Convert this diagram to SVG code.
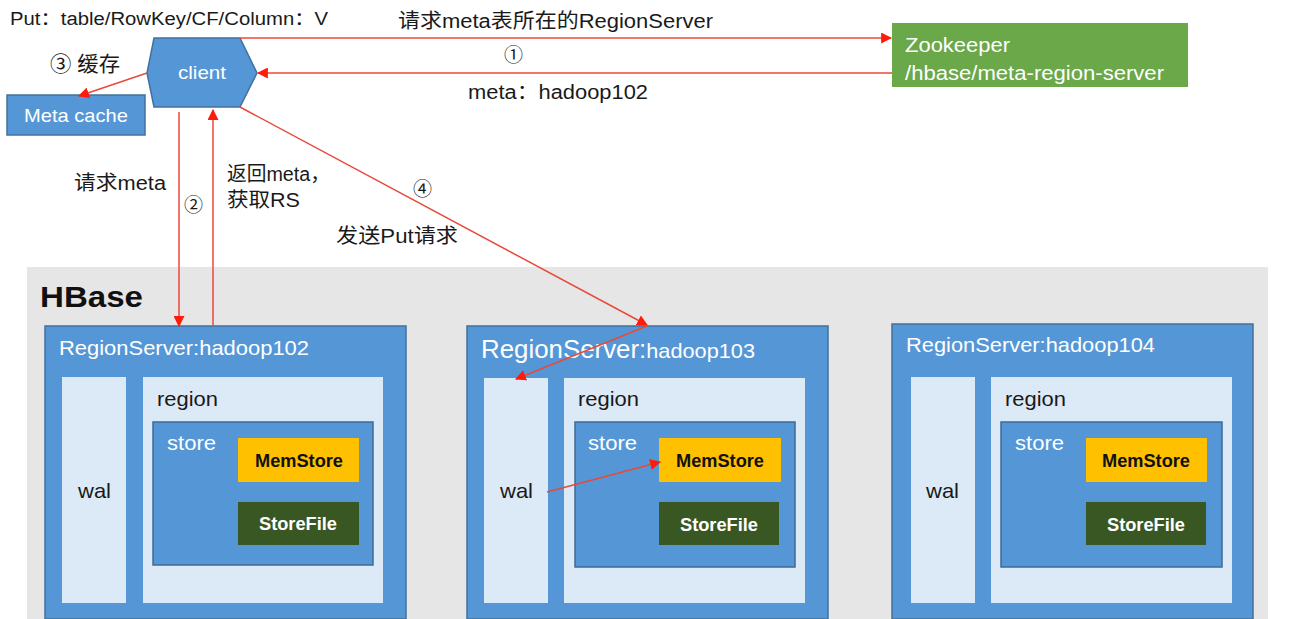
<svg xmlns="http://www.w3.org/2000/svg" width="1289" height="619" viewBox="0 0 1289 619">
<defs>
<marker id="ah" viewBox="0 0 10 10" refX="9" refY="5" markerWidth="11" markerHeight="11" markerUnits="userSpaceOnUse" orient="auto">
<path d="M0,0 L10,5 L0,10 z" fill="#ff1a0a"/>
</marker>
<style>
text{font-family:"Liberation Sans","Noto Sans CJK SC",sans-serif;}
.t{font-size:20px;fill:#1a1a1a;}
.w{fill:#ffffff;}
.num{font-family:"DejaVu Serif","Liberation Serif","Noto Sans CJK SC",serif;font-size:19px;fill:#1a1a1a;}
.rs{fill:#5597d6;stroke:#41719c;stroke-width:1.5;}
.lt{fill:#dce9f6;}
.st{fill:#5597d6;stroke:#3e6b94;stroke-width:1.5;}
.ms{fill:#ffc000;}
.sf{fill:#385723;}
.bold{font-weight:bold;font-size:18px;}
.ln{stroke:#e8493b;stroke-width:1.5;fill:none;}
.b{font-size:21px;}
</style>
</defs>
<rect width="1289" height="619" fill="#ffffff"/>
<g id="hbase">
<rect x="27" y="267" width="1241" height="352" fill="#e6e6e6"/>
<text x="40" y="307" textLength="103" lengthAdjust="spacingAndGlyphs" style="font-size:30px;font-weight:bold;fill:#111">HBase</text>
</g>
<g id="client">
<polygon points="154,38 240,38 257,73 240,107 154,107 147,73" fill="#5597d6" stroke="#41719c" stroke-width="1.5"/>
<text x="178" y="79" class="w" textLength="48" lengthAdjust="spacingAndGlyphs" style="font-size:19px">client</text>
</g>
<g id="metacache">
<rect x="7" y="95" width="138" height="40" fill="#5597d6" stroke="#41719c" stroke-width="1.5"/>
<text x="24" y="122" class="w" textLength="104" lengthAdjust="spacingAndGlyphs" style="font-size:19px">Meta cache</text>
</g>
<g id="zookeeper">
<rect x="892" y="23" width="296" height="64" fill="#6aa84a"/>
<text x="905" y="52" class="w" textLength="105" lengthAdjust="spacingAndGlyphs" style="font-size:20px">Zookeeper</text>
<text x="905" y="80" class="w" textLength="259" lengthAdjust="spacingAndGlyphs" style="font-size:20px">/hbase/meta-region-server</text>
</g>
<g id="rs102">
<rect class="rs" x="45" y="326" width="361" height="293"/>
<text x="59" y="355" class="w b" textLength="250" lengthAdjust="spacingAndGlyphs">RegionServer:hadoop102</text>
<rect class="lt" x="62" y="377" width="64" height="226"/>
<text x="78" y="498" class="t b" textLength="33" lengthAdjust="spacingAndGlyphs">wal</text>
<rect class="lt" x="143" y="377" width="240" height="226"/>
<text x="157" y="406" class="t b" textLength="61" lengthAdjust="spacingAndGlyphs">region</text>
<rect class="st" x="153" y="422" width="220" height="143"/>
<text x="167" y="450" class="w b" textLength="49" lengthAdjust="spacingAndGlyphs">store</text>
<rect class="ms" x="238" y="438" width="121" height="44"/>
<text x="255" y="467" class="bold" fill="#111" textLength="88" lengthAdjust="spacingAndGlyphs">MemStore</text>
<rect class="sf" x="238" y="502" width="121" height="43"/>
<text x="259" y="530" class="bold w" textLength="78" lengthAdjust="spacingAndGlyphs">StoreFile</text>
</g>
<g id="rs103">
<rect class="rs" x="467" y="326" width="361" height="293"/>
<text x="481" y="358" class="w" style="font-size:25px" textLength="274" lengthAdjust="spacingAndGlyphs">RegionServer:<tspan style="font-size:21px">hadoop103</tspan></text>
<rect class="lt" x="484" y="378" width="64" height="225"/>
<text x="500" y="498" class="t b" textLength="33" lengthAdjust="spacingAndGlyphs">wal</text>
<rect class="lt" x="564" y="378" width="241" height="225"/>
<text x="578" y="406" class="t b" textLength="61" lengthAdjust="spacingAndGlyphs">region</text>
<rect class="st" x="575" y="422" width="220" height="145"/>
<text x="588" y="450" class="w b" textLength="49" lengthAdjust="spacingAndGlyphs">store</text>
<rect class="ms" x="659" y="438" width="122" height="44"/>
<text x="676" y="467" class="bold" fill="#111" textLength="88" lengthAdjust="spacingAndGlyphs">MemStore</text>
<rect class="sf" x="659" y="502" width="120" height="43"/>
<text x="680" y="531" class="bold w" textLength="78" lengthAdjust="spacingAndGlyphs">StoreFile</text>
</g>
<g id="rs104">
<rect class="rs" x="892" y="324" width="361" height="295"/>
<text x="906" y="352" class="w b" textLength="249" lengthAdjust="spacingAndGlyphs">RegionServer:hadoop104</text>
<rect class="lt" x="911" y="377" width="64" height="226"/>
<text x="926" y="498" class="t b" textLength="33" lengthAdjust="spacingAndGlyphs">wal</text>
<rect class="lt" x="991" y="377" width="241" height="226"/>
<text x="1005" y="406" class="t b" textLength="61" lengthAdjust="spacingAndGlyphs">region</text>
<rect class="st" x="1001" y="422" width="221" height="145"/>
<text x="1015" y="450" class="w b" textLength="49" lengthAdjust="spacingAndGlyphs">store</text>
<rect class="ms" x="1086" y="438" width="121" height="44"/>
<text x="1102" y="467" class="bold" fill="#111" textLength="88" lengthAdjust="spacingAndGlyphs">MemStore</text>
<rect class="sf" x="1086" y="502" width="120" height="43"/>
<text x="1107" y="531" class="bold w" textLength="78" lengthAdjust="spacingAndGlyphs">StoreFile</text>
</g>
<g id="connectors">
<line class="ln" x1="240" y1="38" x2="891" y2="38" marker-end="url(#ah)"/>
<line class="ln" x1="892" y1="73" x2="258" y2="73" marker-end="url(#ah)"/>
<line class="ln" x1="147" y1="73" x2="79" y2="96" marker-end="url(#ah)"/>
<line class="ln" x1="179" y1="112" x2="179" y2="326" marker-end="url(#ah)"/>
<line class="ln" x1="213" y1="326" x2="213" y2="110" marker-end="url(#ah)"/>
<line class="ln" x1="240" y1="107" x2="647" y2="325" marker-end="url(#ah)"/>
<line class="ln" x1="647" y1="326" x2="516" y2="379" marker-end="url(#ah)"/>
<line class="ln" x1="547" y1="492" x2="660" y2="462" marker-end="url(#ah)"/>
</g>
<g id="labels">
<text x="10" y="25" class="t" style="font-size:18px" textLength="318" lengthAdjust="spacingAndGlyphs">Put：table/RowKey/CF/Column：V</text>
<text x="50" y="71" class="t" style="font-size:21px" textLength="70" lengthAdjust="spacingAndGlyphs">③ 缓存</text>
<text x="398" y="28" class="t" textLength="315" lengthAdjust="spacingAndGlyphs">请求meta表所在的RegionServer</text>
<text x="504" y="62" class="num">①</text>
<text x="468" y="99" class="t" textLength="180" lengthAdjust="spacingAndGlyphs">meta：hadoop102</text>
<text x="74" y="190" class="t" textLength="92" lengthAdjust="spacingAndGlyphs">请求meta</text>
<text x="184" y="212" class="num">②</text>
<text x="227" y="181" class="t" textLength="103" lengthAdjust="spacingAndGlyphs">返回meta，</text>
<text x="227" y="207" class="t" textLength="73" lengthAdjust="spacingAndGlyphs">获取RS</text>
<text x="413" y="196" class="num">④</text>
<text x="336" y="243" class="t" textLength="122" lengthAdjust="spacingAndGlyphs">发送Put请求</text>
</g>
</svg>
